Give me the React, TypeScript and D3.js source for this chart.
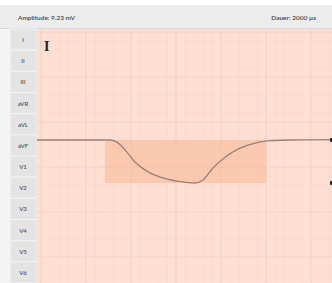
import React from "react";
import * as d3 from "d3";

const leads = ["I", "II", "III", "aVR", "aVL", "aVF", "V1", "V2", "V3", "V4", "V5", "V6"];
const traceTime = [0, 495, 542, 597, 664, 753, 854, 970, 1071, 1125, 1193, 1275, 1376, 1478, 1566, 1700, 2000];
const traceMv = [0, 0, -0.05, -0.23, -0.51, -0.74, -0.88, -0.97, -1.0, -0.93, -0.65, -0.4, -0.19, -0.07, -0.02, 0, 0.01];
const windowStart = 461;
const windowEnd = 1553;
const windowLow = -1.0;
const amplitudeLabel = "Amplitude: 9.23 mV";
const durationLabel = "Dauer: 2000 µs";
const markerMv = [0, -1.0];

export default function App() {
  const W = 332, H = 283;
  const left = 37, top = 29;
  const x = d3.scaleLinear().domain([0, 2000]).range([left, W]);
  const y = d3.scaleLinear().domain([-1, 0]).range([183, 140]);
  const line = d3.line<number>().x((_, i) => x(traceTime[i])).y((d) => y(d)).curve(d3.curveMonotoneX);
  const minor = 9;
  const vx = d3.range(left + 4, W, minor);
  const hy = d3.range(top + 3, H, minor);
  const rowH = (H - top) / leads.length;
  return (
    <div style={{ position: "absolute", left: 0, top: 0 }}>
      <svg width={W} height={H} style={{ display: "block" }} fontFamily="Lato, 'DejaVu Sans', sans-serif">
        <rect x={0} y={0} width={W} height={H} fill="#ffffff" />
        <rect x={0} y={5} width={W} height={top - 5} fill="#ececec" />
        <line x1={0} x2={W} y1={top - 0.5} y2={top - 0.5} stroke="#d9d9d9" />
        <text x={18} y={20} fontSize={6.5} fill="#444" fontWeight={600}>{amplitudeLabel}</text>
        <text x={316} y={20} fontSize={6.5} fill="#444" fontWeight={600} textAnchor="end">{durationLabel}</text>
        <rect x={0} y={top} width={10} height={H - top} fill="#f4f4f4" />
        {leads.map((l, i) => (
          <g key={l}>
            <rect x={10} y={top + i * rowH} width={left - 10} height={rowH} fill="#e4e4e4" stroke="#f2f2f2" strokeWidth={1} />
            <text x={23} y={top + i * rowH + rowH / 2 + 2.5} fontSize={6} fill="#555" textAnchor="middle" fontWeight={600}>{l}</text>
          </g>
        ))}
        <rect x={left} y={top} width={W - left} height={H - top} fill="#fddfd3" />
        {vx.map((v, i) => (
          <line key={"v" + i} x1={v} x2={v} y1={top} y2={H} stroke={i % 5 === 0 ? "#f8d0c1" : "#fbd8cb"} strokeWidth={i % 5 === 0 ? 1.2 : 0.8} />
        ))}
        {hy.map((v, i) => (
          <line key={"h" + i} x1={left} x2={W} y1={v} y2={v} stroke={i % 5 === 0 ? "#f8d0c1" : "#fbd8cb"} strokeWidth={i % 5 === 0 ? 1.2 : 0.8} />
        ))}
        <rect x={x(windowStart)} y={y(0)} width={x(windowEnd) - x(windowStart)} height={y(windowLow) - y(0)} fill="#f9bb99" opacity={0.6} />
        <path d={line(traceMv) || ""} fill="none" stroke="#9b8079" strokeWidth={1.3} />
        {markerMv.map((m, i) => (
          <circle key={i} cx={W} cy={y(m)} r={2.2} fill="#222" />
        ))}
        <text x={44} y={51} fontSize={14} fill="#222" fontFamily="'Liberation Serif', serif" fontWeight="bold">I</text>
      </svg>
    </div>
  );
}
